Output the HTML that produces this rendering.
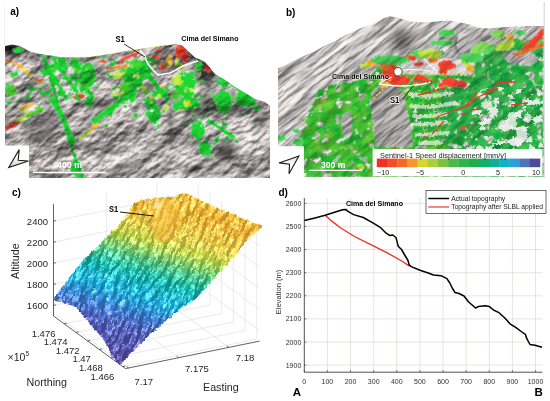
<!DOCTYPE html><html><head><meta charset="utf-8"><style>html,body{margin:0;padding:0;background:#fff;overflow:hidden}svg{display:block;font-family:"Liberation Sans",sans-serif}</style></head><body>
<svg width="550" height="401" viewBox="0 0 550 401" font-family="Liberation Sans, sans-serif">
<defs>
<clipPath id="ca"><polygon points="5,46 12,44.5 20,46 30,51.5 40,54 50,55.5 60,57 75,57.5 90,57 100,55.5 110,54 125,51 140,49 150,47.5 160,46 170,45 176,43.5 182,45.5 188,51 195,57.5 200,59.5 205,62 210,68 215,74 225,80 235,87 245,93 255,99 265,102 270,106 270,178 5,178"/></clipPath>
<clipPath id="cb"><polygon points="278,68.6 290,62.8 300,57.7 305,55.5 315,51.2 325,45.4 335,41 345,35.2 352,32.3 360,28.5 370,25 377,21.5 383,18.5 390,16.3 398,17.7 405,20 410,21.4 420,22.3 430,22.3 440,21 450,20.5 460,22.5 470,24.5 478,27.5 488,28.5 500,27.5 514,26.5 528,26 543.8,26 543.8,177 278,177"/></clipPath>
<clipPath id="cc"><polygon points="52.8,299.6 58,292 65.6,282.6 74,271 82.7,261 95.5,248 108.4,235.5 121,222.7 129.7,210 133,205 138.3,201 145,199.5 151,199 158,198 163.6,197 168,197.5 172.7,197 178,194.5 182,193.5 187,193.5 195,197.5 202,201 212,205.5 224,210.5 235,215 245,219 252,222.5 258,224 262,225 261.4,226.5 256.8,232 247.7,239 241,248 234,257 227,266 218,273 208,286.3 195,299.4 182,307.6 165.5,322 152.5,332 142.7,342 132,352 125,360 119.8,364.8 113,358 105.6,343 98,333 90.5,325 83,315 75.4,307 65,303 56,301"/></clipPath>
<filter id="ta" x="0" y="0" width="100%" height="100%" color-interpolation-filters="sRGB">
<feTurbulence type="fractalNoise" baseFrequency="0.06 0.2" numOctaves="4" seed="4" result="n"/>
<feColorMatrix in="n" type="matrix" values="1.5 0 0 0 -0.13  1.5 0 0 0 -0.13  1.5 0 0 0 -0.13  0 0 0 0 1"/>
</filter>
<filter id="tb" x="0" y="0" width="100%" height="100%" color-interpolation-filters="sRGB">
<feTurbulence type="fractalNoise" baseFrequency="0.05 0.22" numOctaves="4" seed="11" result="n"/>
<feColorMatrix in="n" type="matrix" values="1.4 0 0 0 0.02  1.4 0 0 0 0.02  1.4 0 0 0 0.02  0 0 0 0 1"/>
</filter>
<filter id="cl" filterUnits="userSpaceOnUse" x="-60" y="100" width="420" height="360" color-interpolation-filters="sRGB">
<feTurbulence type="fractalNoise" baseFrequency="0.22 0.06" numOctaves="4" seed="3" result="n"/>
<feDiffuseLighting in="n" surfaceScale="6" diffuseConstant="1" lighting-color="#fff" result="d"><feDistantLight azimuth="180" elevation="45"/></feDiffuseLighting>
<feColorMatrix in="d" type="matrix" values="0.3 0 0 0 0.8  0.3 0 0 0 0.8  0.3 0 0 0 0.8  0 0 0 0 1" result="d2"/>
<feSpecularLighting in="n" surfaceScale="6" specularConstant="0.45" specularExponent="18" lighting-color="#fff" result="s"><feDistantLight azimuth="180" elevation="45"/></feSpecularLighting>
<feBlend in="SourceGraphic" in2="d2" mode="multiply" result="m"/>
<feComposite in="s" in2="m" operator="arithmetic" k2="1" k3="1" result="a"/>
<feComposite in="a" in2="SourceGraphic" operator="in"/>
</filter>
<filter id="sp" x="0" y="0" width="100%" height="100%" color-interpolation-filters="sRGB">
<feTurbulence type="fractalNoise" baseFrequency="0.35 0.12" numOctaves="3" seed="5" result="n"/>
<feColorMatrix in="n" type="matrix" values="0 0 0 0 1  0 0 0 0 1  0 0 0 0 1  4 0 0 0 -2.1"/>
</filter>
<filter id="sd" x="0" y="0" width="100%" height="100%" color-interpolation-filters="sRGB">
<feTurbulence type="fractalNoise" baseFrequency="0.3 0.1" numOctaves="3" seed="9" result="n"/>
<feColorMatrix in="n" type="matrix" values="0 0 0 0 0.1  0 0 0 0 0.1  0 0 0 0 0.2  3 0 0 0 -1.7"/>
</filter>
<linearGradient id="gc" gradientUnits="userSpaceOnUse" x1="100" y1="370" x2="160.5" y2="168.2">
<stop offset="0.045" stop-color="#5446a2"/><stop offset="0.227" stop-color="#4a58b4"/><stop offset="0.295" stop-color="#3a74cc"/>
<stop offset="0.386" stop-color="#16a6d8"/><stop offset="0.49" stop-color="#10b0a4"/><stop offset="0.555" stop-color="#40bc7c"/>
<stop offset="0.645" stop-color="#b4d046"/><stop offset="0.727" stop-color="#e6c640"/><stop offset="0.818" stop-color="#f0ae32"/>
<stop offset="0.91" stop-color="#f2b834"/><stop offset="0.977" stop-color="#f4d040"/></linearGradient>
<filter id="rag" x="-10%" y="-10%" width="120%" height="120%">
<feTurbulence type="fractalNoise" baseFrequency="0.45" numOctaves="2" seed="3" result="t"/>
<feDisplacementMap in="SourceGraphic" in2="t" scale="4" xChannelSelector="R" yChannelSelector="G"/>
</filter>
<filter id="ragh" x="-10%" y="-10%" width="120%" height="120%" color-interpolation-filters="sRGB">
<feTurbulence type="fractalNoise" baseFrequency="0.45" numOctaves="2" seed="3" result="t"/>
<feDisplacementMap in="SourceGraphic" in2="t" scale="4" xChannelSelector="R" yChannelSelector="G" result="d"/>
<feTurbulence type="fractalNoise" baseFrequency="0.14" numOctaves="3" seed="21" result="t2"/>
<feColorMatrix in="t2" type="matrix" values="0 0 0 0 0  0 0 0 0 0  0 0 0 0 0  0 0 0 -20 13.4" result="mask"/>
<feTurbulence type="fractalNoise" baseFrequency="0.09" numOctaves="3" seed="33" result="t3"/>
<feColorMatrix in="t3" type="matrix" values="0.65 0 0 0 -0.06  0.15 0 0 0 0.7  0.05 0 0 0 0.18  0 0 0 0 1" result="col"/>
<feComposite in="col" in2="d" operator="in" result="cd"/>
<feComposite in="cd" in2="mask" operator="in"/>
</filter>
<filter id="raghd" x="-10%" y="-10%" width="120%" height="120%" color-interpolation-filters="sRGB">
<feTurbulence type="fractalNoise" baseFrequency="0.45" numOctaves="2" seed="3" result="t"/>
<feDisplacementMap in="SourceGraphic" in2="t" scale="4" xChannelSelector="R" yChannelSelector="G" result="d"/>
<feTurbulence type="fractalNoise" baseFrequency="0.14" numOctaves="3" seed="21" result="t2"/>
<feColorMatrix in="t2" type="matrix" values="0 0 0 0 0  0 0 0 0 0  0 0 0 0 0  0 0 0 -20 13.4" result="mask"/>
<feTurbulence type="fractalNoise" baseFrequency="0.09" numOctaves="3" seed="34" result="t3"/>
<feColorMatrix in="t3" type="matrix" values="0.5 0 0 0 -0.08  0.2 0 0 0 0.62  0.15 0 0 0 0.22  0 0 0 0 1" result="col"/>
<feComposite in="col" in2="d" operator="in" result="cd"/>
<feComposite in="cd" in2="mask" operator="in"/>
</filter>
<filter id="frag" x="-10%" y="-10%" width="120%" height="120%" color-interpolation-filters="sRGB">
<feTurbulence type="fractalNoise" baseFrequency="0.5" numOctaves="2" seed="5" result="t"/>
<feDisplacementMap in="SourceGraphic" in2="t" scale="4.5" xChannelSelector="R" yChannelSelector="G" result="d"/>
<feTurbulence type="fractalNoise" baseFrequency="0.22" numOctaves="2" seed="27" result="t2"/>
<feColorMatrix in="t2" type="matrix" values="0 0 0 0 0  0 0 0 0 0  0 0 0 0 0  0 0 0 -22 16.6" result="mask"/>
<feComposite in="d" in2="mask" operator="in"/>
</filter>
<filter id="bl05" x="-50%" y="-50%" width="200%" height="200%"><feGaussianBlur stdDeviation="0.7"/></filter>
<filter id="bl1" x="-50%" y="-50%" width="200%" height="200%"><feGaussianBlur stdDeviation="1.5"/></filter>
<linearGradient id="slab" x1="0" y1="0" x2="0.3" y2="1"><stop offset="0" stop-color="#fce070"/><stop offset="0.45" stop-color="#f6c040"/><stop offset="1" stop-color="#f0a830"/></linearGradient>
<filter id="ragc" filterUnits="userSpaceOnUse" x="30" y="180" width="250" height="200">
<feTurbulence type="fractalNoise" baseFrequency="0.3" numOctaves="2" seed="12" result="t"/>
<feDisplacementMap in="SourceGraphic" in2="t" scale="3.5" xChannelSelector="R" yChannelSelector="G"/>
</filter>
<filter id="wnet" filterUnits="userSpaceOnUse" x="440" y="60" width="110" height="120" color-interpolation-filters="sRGB">
<feTurbulence type="fractalNoise" baseFrequency="0.09 0.13" numOctaves="3" seed="41" result="t"/>
<feColorMatrix in="t" type="matrix" values="0 0 0 0 0.95  0 0 0 0 0.94  0 0 0 0 0.94  0 0 0 16 -8.95" result="w"/>
<feTurbulence type="fractalNoise" baseFrequency="0.5" numOctaves="2" seed="5" result="t5"/>
<feDisplacementMap in="w" in2="t5" scale="3" xChannelSelector="R" yChannelSelector="G" result="wd"/>
<feComposite in="wd" in2="SourceGraphic" operator="in"/>
</filter>
<filter id="bl" x="-50%" y="-50%" width="200%" height="200%"><feGaussianBlur stdDeviation="4"/></filter>
<filter id="drA" filterUnits="userSpaceOnUse" x="-150" y="-150" width="600" height="500" color-interpolation-filters="sRGB"><feTurbulence type="fractalNoise" baseFrequency="0.018 0.03" numOctaves="7" seed="4" result="n"/><feDiffuseLighting in="n" surfaceScale="10" diffuseConstant="1" lighting-color="#fff" result="l"><feDistantLight azimuth="110" elevation="42"/></feDiffuseLighting><feColorMatrix in="l" type="matrix" values="0.8 0 0 0 0.27  0.8 0 0 0 0.27  0.8 0 0 0 0.27  0 0 0 0 1" result="hs"/><feTurbulence type="fractalNoise" baseFrequency="0.12 0.25" numOctaves="3" seed="8" result="n2"/><feDiffuseLighting in="n2" surfaceScale="3.5" diffuseConstant="1" lighting-color="#fff" result="l2"><feDistantLight azimuth="110" elevation="42"/></feDiffuseLighting><feColorMatrix in="l2" type="matrix" values="0.5 0 0 0 0.63  0.5 0 0 0 0.63  0.5 0 0 0 0.63  0 0 0 0 1" result="hs2"/><feBlend in="SourceGraphic" in2="hs2" mode="multiply" result="sf"/><feBlend in="sf" in2="hs" mode="multiply" result="m"/></filter>
<filter id="drAw" filterUnits="userSpaceOnUse" x="-150" y="-150" width="600" height="500" color-interpolation-filters="sRGB"><feTurbulence type="fractalNoise" baseFrequency="0.018 0.03" numOctaves="7" seed="4" result="n"/><feDiffuseLighting in="n" surfaceScale="11" diffuseConstant="1" lighting-color="#fff" result="l"><feDistantLight azimuth="110" elevation="42"/></feDiffuseLighting><feColorMatrix in="l" type="matrix" values="0.6 0 0 0 0.52  0.6 0 0 0 0.52  0.6 0 0 0 0.52  0 0 0 0 1" result="hs"/><feBlend in="SourceGraphic" in2="hs" mode="multiply" result="m"/><feComposite in="m" in2="SourceGraphic" operator="in"/></filter>
<filter id="drB" filterUnits="userSpaceOnUse" x="150" y="-200" width="560" height="560" color-interpolation-filters="sRGB"><feTurbulence type="fractalNoise" baseFrequency="0.008 0.04" numOctaves="7" seed="13" result="n"/><feDiffuseLighting in="n" surfaceScale="6" diffuseConstant="1" lighting-color="#fff" result="l"><feDistantLight azimuth="90" elevation="40"/></feDiffuseLighting><feColorMatrix in="l" type="matrix" values="0.6 0 0 0 0.5  0.6 0 0 0 0.5  0.6 0 0 0 0.5  0 0 0 0 1" result="hs"/><feTurbulence type="fractalNoise" baseFrequency="0.03 0.22" numOctaves="4" seed="8" result="n2"/><feDiffuseLighting in="n2" surfaceScale="4" diffuseConstant="1" lighting-color="#fff" result="l2"><feDistantLight azimuth="90" elevation="40"/></feDiffuseLighting><feColorMatrix in="l2" type="matrix" values="0.55 0 0 0 0.63  0.55 0 0 0 0.63  0.55 0 0 0 0.63  0 0 0 0 1" result="hs2"/><feBlend in="SourceGraphic" in2="hs2" mode="multiply" result="sf"/><feBlend in="sf" in2="hs" mode="multiply" result="m"/></filter>
<filter id="drBm" filterUnits="userSpaceOnUse" x="150" y="-200" width="560" height="560" color-interpolation-filters="sRGB"><feTurbulence type="fractalNoise" baseFrequency="0.008 0.04" numOctaves="7" seed="13" result="n"/><feDiffuseLighting in="n" surfaceScale="6" diffuseConstant="1" lighting-color="#fff" result="l"><feDistantLight azimuth="90" elevation="40"/></feDiffuseLighting><feColorMatrix in="l" type="matrix" values="0.6 0 0 0 0.5  0.6 0 0 0 0.5  0.6 0 0 0 0.5  0 0 0 0 1" result="hs"/><feTurbulence type="fractalNoise" baseFrequency="0.03 0.22" numOctaves="4" seed="8" result="n2"/><feDiffuseLighting in="n2" surfaceScale="4" diffuseConstant="1" lighting-color="#fff" result="l2"><feDistantLight azimuth="90" elevation="40"/></feDiffuseLighting><feColorMatrix in="l2" type="matrix" values="0.55 0 0 0 0.63  0.55 0 0 0 0.63  0.55 0 0 0 0.63  0 0 0 0 1" result="hs2"/><feBlend in="SourceGraphic" in2="hs2" mode="multiply" result="sf"/><feBlend in="sf" in2="hs" mode="multiply" result="m"/><feComposite in="m" in2="SourceGraphic" operator="in"/></filter>
<filter id="drBw" filterUnits="userSpaceOnUse" x="150" y="-200" width="560" height="560" color-interpolation-filters="sRGB"><feTurbulence type="fractalNoise" baseFrequency="0.02 0.05" numOctaves="7" seed="13" result="n"/><feDiffuseLighting in="n" surfaceScale="7" diffuseConstant="1" lighting-color="#fff" result="l"><feDistantLight azimuth="90" elevation="35"/></feDiffuseLighting><feColorMatrix in="l" type="matrix" values="0.35 0 0 0 0.72  0.35 0 0 0 0.72  0.35 0 0 0 0.72  0 0 0 0 1" result="hs"/><feBlend in="SourceGraphic" in2="hs" mode="multiply" result="m"/><feComposite in="m" in2="SourceGraphic" operator="in"/></filter>
</defs>
<g clip-path="url(#ca)">
<g transform="rotate(-35 137 110)" filter="url(#drA)"><g transform="rotate(35 137 110)">
<rect x="0" y="30" width="275" height="160" fill="#f8efee"/>
<g filter="url(#bl)">
<ellipse cx="14" cy="49" rx="11" ry="4" fill="#000" opacity="0.75" transform="rotate(-5 14 49)"/>
<ellipse cx="60" cy="57" rx="30" ry="3" fill="#000" opacity="0.35" transform="rotate(4 60 57)"/>
<ellipse cx="40" cy="130" rx="18" ry="16" fill="#000" opacity="0.35" transform="rotate(-35 40 130)"/>
<ellipse cx="103" cy="113" rx="18" ry="5" fill="#000" opacity="0.5" transform="rotate(-42 103 113)"/>
<ellipse cx="205" cy="72" rx="12" ry="14" fill="#000" opacity="0.6" transform="rotate(20 205 72)"/>
<ellipse cx="165" cy="60" rx="17" ry="8" fill="#000" opacity="0.55" transform="rotate(-10 165 60)"/>
<ellipse cx="226" cy="152" rx="14" ry="10" fill="#000" opacity="0.6" transform="rotate(-20 226 152)"/>
<ellipse cx="212" cy="103" rx="13" ry="10" fill="#000" opacity="0.55"/>
<ellipse cx="214" cy="76" rx="6" ry="10" fill="#000" opacity="0.5"/>
<ellipse cx="260" cy="122" rx="8" ry="12" fill="#000" opacity="0.4"/>
<ellipse cx="170" cy="122" rx="3" ry="32" fill="#000" opacity="0.4" transform="rotate(3 170 122)"/>
<ellipse cx="50" cy="100" rx="6" ry="28" fill="#000" opacity="0.3" transform="rotate(-28 50 100)"/>
<ellipse cx="88" cy="62" rx="14" ry="4" fill="#000" opacity="0.3" transform="rotate(-10 88 62)"/>
<ellipse cx="195" cy="140" rx="9" ry="12" fill="#000" opacity="0.25"/>
<ellipse cx="128" cy="55" rx="12" ry="3" fill="#000" opacity="0.35" transform="rotate(-12 128 55)"/>
<ellipse cx="232" cy="95" rx="8" ry="6" fill="#000" opacity="0.3"/>
<ellipse cx="120" cy="75" rx="8" ry="5" fill="#000" opacity="0.25"/>
<ellipse cx="135" cy="155" rx="32" ry="14" fill="#fff" opacity="0.45" transform="rotate(-10 135 155)"/>
<ellipse cx="255" cy="150" rx="14" ry="25" fill="#fff" opacity="0.4"/>
<ellipse cx="90" cy="150" rx="15" ry="12" fill="#fff" opacity="0.3"/>
<ellipse cx="200" cy="168" rx="25" ry="8" fill="#fff" opacity="0.3"/>
<ellipse cx="20" cy="90" rx="14" ry="14" fill="#fff" opacity="0.3" transform="rotate(-20 20 90)"/>
<ellipse cx="140" cy="100" rx="12" ry="8" fill="#fff" opacity="0.2" transform="rotate(-30 140 100)"/>
</g>
<g filter="url(#bl1)">
<polyline points="4,48 9,48 14,49" fill="none" stroke="#000" stroke-width="7" opacity="0.8" stroke-linecap="round"/>
<polyline points="14,49 22,50 28,52.5" fill="none" stroke="#000" stroke-width="3" opacity="0.6" stroke-linecap="round"/>
<polyline points="6,53 12,54" fill="none" stroke="#000" stroke-width="4" opacity="0.5" stroke-linecap="round"/>
<polyline points="30,53 50,56.5 75,58.5 100,56.5 125,52" fill="none" stroke="#000" stroke-width="2.5" opacity="0.35" stroke-linecap="round"/>
<polyline points="182,47 190,53 198,60 206,66" fill="none" stroke="#000" stroke-width="4" opacity="0.5" stroke-linecap="round"/>
<polyline points="200,70 204,80 210,88" fill="none" stroke="#000" stroke-width="3" opacity="0.45" stroke-linecap="round"/>
<polyline points="168,92 170,110 171,130 172,150" fill="none" stroke="#000" stroke-width="1.5" opacity="0.45" stroke-linecap="round"/>
<polyline points="88,130 100,120 112,108 120,99" fill="none" stroke="#000" stroke-width="2" opacity="0.4" stroke-linecap="round"/>
</g>
</g></g>
<g transform="rotate(-35 137 110)" filter="url(#drAw)"><g transform="rotate(35 137 110)">
<g filter="url(#frag)">
<ellipse cx="18" cy="50" rx="6" ry="3" fill="#1cd834"/>
<ellipse cx="45" cy="72" rx="5" ry="4" fill="#1cd834"/>
<ellipse cx="54" cy="80" rx="5" ry="4" fill="#1cd834"/>
<ellipse cx="76" cy="63" rx="6" ry="5" fill="#1cd834"/>
<ellipse cx="82" cy="80" rx="8" ry="5" fill="#1cd834" transform="rotate(-20 82 80)"/>
<ellipse cx="62" cy="62" rx="4" ry="6" fill="#14c02c"/>
<ellipse cx="11" cy="91" rx="6" ry="6" fill="#4cd634"/>
<ellipse cx="31" cy="89" rx="4" ry="3" fill="#1cd834"/>
<ellipse cx="79" cy="97" rx="6" ry="3" fill="#ff402e" transform="rotate(-10 79 97)"/>
<ellipse cx="8" cy="102" rx="3" ry="2" fill="#1cd834"/>
<ellipse cx="71" cy="140" rx="5" ry="4" fill="#1cd834"/>
<ellipse cx="76" cy="168" rx="6" ry="8" fill="#1cd834"/>
<ellipse cx="80" cy="176" rx="5" ry="3" fill="#1cd834"/>
<ellipse cx="89" cy="103" rx="5" ry="4" fill="#1cd834"/>
<ellipse cx="110" cy="110" rx="6" ry="4" fill="#4cd634" transform="rotate(-35 110 110)"/>
<ellipse cx="125" cy="97" rx="6" ry="4" fill="#1cd834" transform="rotate(-35 125 97)"/>
<ellipse cx="154" cy="113" rx="7" ry="10" fill="#1cd834"/>
<ellipse cx="150" cy="108" rx="4" ry="4" fill="#14c02c"/>
<ellipse cx="160" cy="94" rx="8" ry="4" fill="#1cd834"/>
<ellipse cx="178" cy="106" rx="6" ry="5" fill="#1cd834"/>
<ellipse cx="176" cy="92" rx="1.8" ry="1.8" fill="#ffbe34"/>
<ellipse cx="103" cy="61" rx="3" ry="1.8" fill="#ff402e"/>
<ellipse cx="120" cy="74" rx="8" ry="5" fill="#c2f046" transform="rotate(-20 120 74)"/>
<ellipse cx="133" cy="80" rx="10" ry="14" fill="#1cd834"/>
<ellipse cx="125" cy="88" rx="6" ry="6" fill="#4cd634"/>
<ellipse cx="88" cy="75" rx="8" ry="13" fill="#1cd834"/>
<ellipse cx="84" cy="88" rx="5" ry="5" fill="#4cd634"/>
<ellipse cx="154" cy="58" rx="3.5" ry="2" fill="#ff402e"/>
<ellipse cx="163" cy="66" rx="3" ry="4" fill="#ff402e"/>
<ellipse cx="158" cy="52" rx="2.5" ry="1.5" fill="#ff402e"/>
<ellipse cx="170" cy="61" rx="3" ry="7" fill="#ffbe34"/>
<ellipse cx="178" cy="63" rx="3" ry="7" fill="#c2f046"/>
<ellipse cx="181" cy="51" rx="6" ry="8" fill="#ff402e"/>
<ellipse cx="186" cy="57" rx="3.5" ry="6" fill="#ff402e"/>
<ellipse cx="155" cy="58" rx="5" ry="2.5" fill="#ff402e"/>
<ellipse cx="159" cy="51" rx="3" ry="1.8" fill="#ff402e"/>
<ellipse cx="164" cy="65" rx="3.5" ry="5" fill="#ff402e"/>
<ellipse cx="208" cy="68" rx="4" ry="4" fill="#ff402e"/>
<ellipse cx="199" cy="66" rx="4" ry="5" fill="#1cd834"/>
<ellipse cx="224" cy="81" rx="6" ry="7" fill="#1cd834"/>
<ellipse cx="184" cy="84" rx="12" ry="12" fill="#1cd834"/>
<ellipse cx="178" cy="80" rx="6" ry="6" fill="#c2f046"/>
<ellipse cx="190" cy="92" rx="6" ry="4" fill="#f6f040"/>
<ellipse cx="176" cy="95" rx="5" ry="5" fill="#4cd634"/>
<ellipse cx="140" cy="70" rx="12" ry="10" fill="#1cd834"/>
<ellipse cx="136" cy="63" rx="6" ry="4" fill="#4cd634"/>
<ellipse cx="189" cy="101" rx="9" ry="10" fill="#1cd834"/>
<ellipse cx="224" cy="102" rx="8" ry="12" fill="#1cd834"/>
<ellipse cx="242" cy="99" rx="7" ry="8" fill="#1cd834"/>
<ellipse cx="226" cy="80" rx="5" ry="5" fill="#1cd834"/>
<ellipse cx="198" cy="130" rx="7" ry="10" fill="#1cd834"/>
<ellipse cx="205" cy="148" rx="7" ry="8" fill="#1cd834"/>
<ellipse cx="249" cy="102" rx="6" ry="6" fill="#1cd834"/>
<ellipse cx="132" cy="95" rx="4" ry="8" fill="#1cd834"/>
<ellipse cx="148" cy="103" rx="3" ry="6" fill="#1cd834"/>
<ellipse cx="47.4" cy="93.1" rx="3.0" ry="2.3" fill="#1cd834"/>
<ellipse cx="81.9" cy="76.3" rx="2.3" ry="1.6" fill="#1cd834"/>
<ellipse cx="41.6" cy="92.6" rx="2.4" ry="2.5" fill="#1cd834"/>
<ellipse cx="78.3" cy="67.0" rx="3.1" ry="3.0" fill="#1cd834"/>
<ellipse cx="89.6" cy="56.4" rx="1.6" ry="1.4" fill="#1cd834"/>
<ellipse cx="77.8" cy="98.6" rx="3.0" ry="2.7" fill="#1cd834"/>
<ellipse cx="91.7" cy="79.9" rx="2.2" ry="2.2" fill="#1cd834"/>
<ellipse cx="92.4" cy="96.7" rx="2.3" ry="2.7" fill="#1cd834"/>
<ellipse cx="50.2" cy="99.7" rx="3.2" ry="2.2" fill="#4cd634"/>
<ellipse cx="89.3" cy="98.8" rx="2.5" ry="3.0" fill="#14c02c"/>
<ellipse cx="56.7" cy="81.4" rx="3.3" ry="3.6" fill="#1cd834"/>
<ellipse cx="72.4" cy="56.6" rx="2.0" ry="2.1" fill="#1cd834"/>
<ellipse cx="76.6" cy="71.5" rx="3.3" ry="3.5" fill="#4cd634"/>
<ellipse cx="44.8" cy="84.9" rx="1.7" ry="1.2" fill="#1cd834"/>
<ellipse cx="60.4" cy="88.0" rx="2.4" ry="1.9" fill="#1cd834"/>
<ellipse cx="75.6" cy="62.6" rx="2.0" ry="1.2" fill="#14c02c"/>
<ellipse cx="69.7" cy="93.7" rx="2.0" ry="1.8" fill="#4cd634"/>
<ellipse cx="65.3" cy="67.1" rx="2.6" ry="3.0" fill="#1cd834"/>
<ellipse cx="61.1" cy="93.6" rx="3.4" ry="4.0" fill="#14c02c"/>
<ellipse cx="68.5" cy="80.3" rx="2.4" ry="1.5" fill="#4cd634"/>
<ellipse cx="71.3" cy="64.0" rx="2.5" ry="2.2" fill="#4cd634"/>
<ellipse cx="62.8" cy="55.1" rx="2.6" ry="2.8" fill="#4cd634"/>
<ellipse cx="65.2" cy="56.3" rx="2.0" ry="1.4" fill="#14c02c"/>
<ellipse cx="87.4" cy="90.9" rx="3.1" ry="3.4" fill="#4cd634"/>
<ellipse cx="41.8" cy="97.5" rx="1.6" ry="1.8" fill="#1cd834"/>
<ellipse cx="40.8" cy="89.0" rx="2.0" ry="1.3" fill="#14c02c"/>
<ellipse cx="58.9" cy="58.1" rx="1.8" ry="1.7" fill="#14c02c"/>
<ellipse cx="76.1" cy="84.2" rx="2.1" ry="2.1" fill="#1cd834"/>
<ellipse cx="66.1" cy="56.1" rx="2.3" ry="1.9" fill="#14c02c"/>
<ellipse cx="54.2" cy="66.4" rx="3.0" ry="3.5" fill="#1cd834"/>
<ellipse cx="84.9" cy="55.9" rx="1.5" ry="1.1" fill="#14c02c"/>
<ellipse cx="64.5" cy="77.8" rx="2.4" ry="2.6" fill="#1cd834"/>
<ellipse cx="52.3" cy="84.2" rx="2.3" ry="2.2" fill="#4cd634"/>
<ellipse cx="76.3" cy="74.2" rx="3.0" ry="2.0" fill="#14c02c"/>
<ellipse cx="88.2" cy="68.8" rx="3.2" ry="2.5" fill="#4cd634"/>
<ellipse cx="80.9" cy="73.7" rx="2.0" ry="1.2" fill="#1cd834"/>
<ellipse cx="72.5" cy="64.8" rx="3.3" ry="2.9" fill="#1cd834"/>
<ellipse cx="60.8" cy="70.6" rx="1.9" ry="1.9" fill="#1cd834"/>
<ellipse cx="72.5" cy="77.2" rx="3.4" ry="2.8" fill="#1cd834"/>
<ellipse cx="40.9" cy="82.5" rx="2.3" ry="1.8" fill="#14c02c"/>
<ellipse cx="51.0" cy="69.7" rx="3.5" ry="3.7" fill="#4cd634"/>
<ellipse cx="63.6" cy="67.0" rx="1.7" ry="1.4" fill="#4cd634"/>
<ellipse cx="90.3" cy="92.7" rx="2.6" ry="2.7" fill="#14c02c"/>
<ellipse cx="43.6" cy="56.8" rx="1.8" ry="1.2" fill="#14c02c"/>
<ellipse cx="54.7" cy="70.0" rx="2.5" ry="1.9" fill="#4cd634"/>
<ellipse cx="58.7" cy="68.1" rx="3.2" ry="3.1" fill="#1cd834"/>
<ellipse cx="47.4" cy="79.8" rx="1.7" ry="1.1" fill="#1cd834"/>
<ellipse cx="60.9" cy="99.6" rx="1.8" ry="1.2" fill="#1cd834"/>
<ellipse cx="73.8" cy="90.2" rx="2.3" ry="2.1" fill="#14c02c"/>
<ellipse cx="71.1" cy="97.9" rx="2.2" ry="1.7" fill="#1cd834"/>
<ellipse cx="65.2" cy="67.5" rx="3.1" ry="3.4" fill="#1cd834"/>
<ellipse cx="73.8" cy="55.7" rx="2.3" ry="2.5" fill="#1cd834"/>
<ellipse cx="50.3" cy="90.3" rx="2.7" ry="1.9" fill="#1cd834"/>
<ellipse cx="49.2" cy="65.9" rx="3.0" ry="2.0" fill="#1cd834"/>
<ellipse cx="84.4" cy="79.4" rx="3.1" ry="2.9" fill="#1cd834"/>
<ellipse cx="57.3" cy="64.3" rx="2.1" ry="1.3" fill="#4cd634"/>
<ellipse cx="80.0" cy="69.4" rx="2.3" ry="1.9" fill="#1cd834"/>
<ellipse cx="90.2" cy="98.6" rx="3.4" ry="2.3" fill="#14c02c"/>
<ellipse cx="83.2" cy="90.0" rx="3.3" ry="3.7" fill="#1cd834"/>
<ellipse cx="76.4" cy="66.7" rx="2.6" ry="2.0" fill="#14c02c"/>
<ellipse cx="147.6" cy="97.7" rx="1.6" ry="1.1" fill="#14c02c"/>
<ellipse cx="135.5" cy="85.1" rx="2.1" ry="2.0" fill="#1cd834"/>
<ellipse cx="127.0" cy="62.1" rx="2.4" ry="2.0" fill="#4cd634"/>
<ellipse cx="124.9" cy="75.0" rx="2.0" ry="1.3" fill="#1cd834"/>
<ellipse cx="115.0" cy="96.9" rx="3.3" ry="2.8" fill="#14c02c"/>
<ellipse cx="125.8" cy="65.6" rx="1.5" ry="1.2" fill="#14c02c"/>
<ellipse cx="123.1" cy="71.2" rx="2.5" ry="2.4" fill="#c2f046"/>
<ellipse cx="138.8" cy="88.0" rx="3.3" ry="3.5" fill="#4cd634"/>
<ellipse cx="114.9" cy="93.7" rx="2.4" ry="2.8" fill="#c2f046"/>
<ellipse cx="134.3" cy="75.8" rx="2.6" ry="2.3" fill="#c2f046"/>
<ellipse cx="122.5" cy="92.4" rx="2.2" ry="2.5" fill="#c2f046"/>
<ellipse cx="114.3" cy="87.7" rx="2.6" ry="2.3" fill="#14c02c"/>
<ellipse cx="146.7" cy="91.7" rx="3.2" ry="3.6" fill="#4cd634"/>
<ellipse cx="137.5" cy="76.6" rx="2.1" ry="2.3" fill="#c2f046"/>
<ellipse cx="112.2" cy="64.4" rx="2.5" ry="2.9" fill="#1cd834"/>
<ellipse cx="138.1" cy="70.4" rx="1.5" ry="1.7" fill="#1cd834"/>
<ellipse cx="98.2" cy="84.4" rx="2.0" ry="1.5" fill="#1cd834"/>
<ellipse cx="136.5" cy="61.1" rx="2.0" ry="2.2" fill="#1cd834"/>
<ellipse cx="118.3" cy="87.3" rx="1.6" ry="1.3" fill="#14c02c"/>
<ellipse cx="108.7" cy="56.1" rx="1.7" ry="1.1" fill="#1cd834"/>
<ellipse cx="135.1" cy="56.0" rx="2.0" ry="2.2" fill="#14c02c"/>
<ellipse cx="135.4" cy="78.5" rx="1.5" ry="1.4" fill="#14c02c"/>
<ellipse cx="103.3" cy="56.6" rx="2.2" ry="2.1" fill="#1cd834"/>
<ellipse cx="110.7" cy="77.0" rx="2.1" ry="2.0" fill="#1cd834"/>
<ellipse cx="144.6" cy="89.0" rx="3.2" ry="3.3" fill="#c2f046"/>
<ellipse cx="147.7" cy="59.2" rx="2.9" ry="3.2" fill="#1cd834"/>
<ellipse cx="119.6" cy="94.4" rx="1.8" ry="1.7" fill="#c2f046"/>
<ellipse cx="121.8" cy="69.8" rx="3.2" ry="2.6" fill="#4cd634"/>
<ellipse cx="128.3" cy="73.9" rx="1.5" ry="1.4" fill="#14c02c"/>
<ellipse cx="131.9" cy="66.4" rx="1.8" ry="1.2" fill="#c2f046"/>
<ellipse cx="129.9" cy="77.9" rx="3.5" ry="4.0" fill="#14c02c"/>
<ellipse cx="107.8" cy="75.0" rx="2.0" ry="1.9" fill="#4cd634"/>
<ellipse cx="109.1" cy="74.0" rx="2.6" ry="1.5" fill="#1cd834"/>
<ellipse cx="116.2" cy="62.2" rx="2.5" ry="1.6" fill="#1cd834"/>
<ellipse cx="100.5" cy="63.2" rx="2.0" ry="1.4" fill="#c2f046"/>
<ellipse cx="161.9" cy="87.2" rx="2.2" ry="2.2" fill="#ffbe34"/>
<ellipse cx="153.3" cy="60.7" rx="3.2" ry="2.4" fill="#14c02c"/>
<ellipse cx="159.6" cy="95.9" rx="2.6" ry="2.4" fill="#c2f046"/>
<ellipse cx="182.0" cy="67.5" rx="2.8" ry="3.1" fill="#ffbe34"/>
<ellipse cx="169.5" cy="60.8" rx="3.1" ry="2.1" fill="#ffbe34"/>
<ellipse cx="152.1" cy="99.0" rx="3.1" ry="2.4" fill="#ffbe34"/>
<ellipse cx="185.9" cy="103.9" rx="2.9" ry="3.4" fill="#c2f046"/>
<ellipse cx="186.4" cy="88.8" rx="3.4" ry="2.3" fill="#4cd634"/>
<ellipse cx="154.9" cy="66.8" rx="1.9" ry="2.3" fill="#c2f046"/>
<ellipse cx="188.9" cy="102.8" rx="2.3" ry="2.6" fill="#ffbe34"/>
<ellipse cx="167.5" cy="89.3" rx="2.7" ry="3.0" fill="#1cd834"/>
<ellipse cx="192.8" cy="109.5" rx="2.8" ry="2.0" fill="#4cd634"/>
<ellipse cx="198.2" cy="105.2" rx="2.6" ry="2.7" fill="#14c02c"/>
<ellipse cx="181.6" cy="109.4" rx="2.0" ry="1.4" fill="#c2f046"/>
<ellipse cx="192.7" cy="109.5" rx="1.7" ry="1.8" fill="#c2f046"/>
<ellipse cx="194.9" cy="61.0" rx="2.4" ry="2.0" fill="#1cd834"/>
<ellipse cx="152.2" cy="90.7" rx="1.6" ry="1.6" fill="#4cd634"/>
<ellipse cx="177.5" cy="106.1" rx="2.1" ry="1.5" fill="#1cd834"/>
<ellipse cx="165.5" cy="63.8" rx="2.7" ry="1.7" fill="#14c02c"/>
<ellipse cx="198.6" cy="74.6" rx="2.0" ry="2.1" fill="#4cd634"/>
<ellipse cx="165.7" cy="107.9" rx="3.3" ry="2.7" fill="#c2f046"/>
<ellipse cx="193.5" cy="79.3" rx="3.2" ry="3.3" fill="#1cd834"/>
<ellipse cx="181.0" cy="107.0" rx="2.5" ry="2.2" fill="#14c02c"/>
<ellipse cx="196.8" cy="81.9" rx="2.0" ry="1.6" fill="#4cd634"/>
<ellipse cx="150.6" cy="80.8" rx="2.7" ry="1.6" fill="#ffbe34"/>
<ellipse cx="179.5" cy="66.7" rx="2.8" ry="2.2" fill="#4cd634"/>
<ellipse cx="184.0" cy="77.6" rx="2.9" ry="3.0" fill="#1cd834"/>
<ellipse cx="179.5" cy="107.7" rx="1.5" ry="1.3" fill="#c2f046"/>
<ellipse cx="164.9" cy="90.1" rx="1.9" ry="1.3" fill="#4cd634"/>
<ellipse cx="192.2" cy="73.2" rx="3.1" ry="2.0" fill="#1cd834"/>
<ellipse cx="214.2" cy="79.1" rx="2.2" ry="1.5" fill="#1cd834"/>
<ellipse cx="201.2" cy="97.0" rx="2.0" ry="2.4" fill="#1cd834"/>
<ellipse cx="213.3" cy="96.5" rx="2.0" ry="1.4" fill="#1cd834"/>
<ellipse cx="215.7" cy="112.7" rx="1.5" ry="1.5" fill="#14c02c"/>
<ellipse cx="248.0" cy="82.7" rx="2.0" ry="2.0" fill="#4cd634"/>
<ellipse cx="257.7" cy="108.9" rx="2.1" ry="2.4" fill="#14c02c"/>
<ellipse cx="240.3" cy="95.2" rx="1.8" ry="1.6" fill="#1cd834"/>
<ellipse cx="256.7" cy="107.7" rx="3.1" ry="3.4" fill="#1cd834"/>
<ellipse cx="254.5" cy="97.9" rx="3.0" ry="3.3" fill="#4cd634"/>
<ellipse cx="211.7" cy="91.9" rx="2.0" ry="1.7" fill="#1cd834"/>
<ellipse cx="218.3" cy="107.5" rx="1.6" ry="1.0" fill="#4cd634"/>
<ellipse cx="259.8" cy="95.8" rx="2.6" ry="2.7" fill="#1cd834"/>
<ellipse cx="259.8" cy="82.8" rx="2.2" ry="1.6" fill="#4cd634"/>
<ellipse cx="226.5" cy="82.3" rx="2.2" ry="2.1" fill="#4cd634"/>
<ellipse cx="233.5" cy="111.2" rx="1.7" ry="1.1" fill="#1cd834"/>
<ellipse cx="216.6" cy="98.3" rx="3.0" ry="2.0" fill="#1cd834"/>
<ellipse cx="217.5" cy="76.0" rx="2.1" ry="1.4" fill="#14c02c"/>
<ellipse cx="244.1" cy="113.4" rx="1.5" ry="1.2" fill="#1cd834"/>
<ellipse cx="246.5" cy="91.4" rx="3.1" ry="3.0" fill="#1cd834"/>
<ellipse cx="217.6" cy="82.7" rx="2.3" ry="1.5" fill="#14c02c"/>
<ellipse cx="235.9" cy="81.4" rx="2.5" ry="2.0" fill="#14c02c"/>
<ellipse cx="210.2" cy="106.3" rx="2.1" ry="1.6" fill="#1cd834"/>
<ellipse cx="226.4" cy="83.3" rx="3.1" ry="2.0" fill="#1cd834"/>
<ellipse cx="203.3" cy="81.7" rx="2.7" ry="1.8" fill="#1cd834"/>
<ellipse cx="232.8" cy="98.3" rx="2.0" ry="1.3" fill="#4cd634"/>
<ellipse cx="26.8" cy="111.9" rx="2.7" ry="3.1" fill="#c2f046"/>
<ellipse cx="27.8" cy="97.1" rx="2.8" ry="2.9" fill="#1cd834"/>
<ellipse cx="27.7" cy="123.1" rx="1.7" ry="1.5" fill="#1cd834"/>
<ellipse cx="18.3" cy="67.1" rx="1.9" ry="1.9" fill="#4cd634"/>
<ellipse cx="14.8" cy="124.1" rx="2.6" ry="1.8" fill="#1cd834"/>
<ellipse cx="9.9" cy="103.2" rx="1.7" ry="1.0" fill="#1cd834"/>
<ellipse cx="12.3" cy="75.1" rx="3.0" ry="3.3" fill="#4cd634"/>
<ellipse cx="16.0" cy="73.9" rx="2.8" ry="2.7" fill="#1cd834"/>
<ellipse cx="37.9" cy="108.3" rx="2.9" ry="3.4" fill="#4cd634"/>
<ellipse cx="5.8" cy="89.0" rx="2.9" ry="2.2" fill="#4cd634"/>
<ellipse cx="15.5" cy="102.2" rx="1.5" ry="1.5" fill="#4cd634"/>
<ellipse cx="7.3" cy="84.9" rx="2.0" ry="2.0" fill="#1cd834"/>
<ellipse cx="21.8" cy="109.3" rx="1.6" ry="1.9" fill="#1cd834"/>
<ellipse cx="38.2" cy="85.0" rx="2.1" ry="2.0" fill="#4cd634"/>
<ellipse cx="17.8" cy="100.5" rx="1.5" ry="1.0" fill="#1cd834"/>
<ellipse cx="155.5" cy="122.9" rx="2.2" ry="1.7" fill="#1cd834"/>
<ellipse cx="110.2" cy="113.5" rx="2.9" ry="3.1" fill="#14c02c"/>
<ellipse cx="153.9" cy="100.9" rx="2.7" ry="2.8" fill="#14c02c"/>
<ellipse cx="163.7" cy="111.6" rx="1.6" ry="1.5" fill="#14c02c"/>
<ellipse cx="146.4" cy="114.4" rx="1.6" ry="1.4" fill="#1cd834"/>
<ellipse cx="125.3" cy="106.4" rx="1.9" ry="1.9" fill="#1cd834"/>
<ellipse cx="149.1" cy="121.9" rx="1.6" ry="1.0" fill="#1cd834"/>
<ellipse cx="158.0" cy="126.5" rx="2.2" ry="2.5" fill="#1cd834"/>
<ellipse cx="136.0" cy="115.8" rx="2.5" ry="2.8" fill="#1cd834"/>
<ellipse cx="144.3" cy="99.8" rx="2.1" ry="1.7" fill="#1cd834"/>
<ellipse cx="106.3" cy="125.2" rx="2.3" ry="1.5" fill="#14c02c"/>
<ellipse cx="121.9" cy="97.8" rx="2.2" ry="1.5" fill="#1cd834"/>
<ellipse cx="202.8" cy="117.5" rx="2.5" ry="1.6" fill="#1cd834"/>
<ellipse cx="205.1" cy="112.9" rx="2.3" ry="1.4" fill="#14c02c"/>
<ellipse cx="208.0" cy="122.0" rx="2.3" ry="1.5" fill="#1cd834"/>
<ellipse cx="237.1" cy="141.5" rx="2.4" ry="1.5" fill="#14c02c"/>
<ellipse cx="187.7" cy="121.1" rx="2.3" ry="1.6" fill="#14c02c"/>
<ellipse cx="192.9" cy="115.9" rx="2.0" ry="2.1" fill="#1cd834"/>
<ellipse cx="190.7" cy="138.6" rx="1.8" ry="1.2" fill="#1cd834"/>
<ellipse cx="216.0" cy="141.0" rx="2.2" ry="2.1" fill="#14c02c"/>
<ellipse cx="210.6" cy="156.2" rx="2.0" ry="1.5" fill="#1cd834"/>
<ellipse cx="223.4" cy="122.2" rx="2.4" ry="2.2" fill="#14c02c"/>
<ellipse cx="225.1" cy="124.4" rx="3.0" ry="2.0" fill="#14c02c"/>
<ellipse cx="194.1" cy="127.1" rx="2.9" ry="2.5" fill="#1cd834"/>
<ellipse cx="227.1" cy="138.7" rx="2.8" ry="2.2" fill="#14c02c"/>
<ellipse cx="217.7" cy="139.0" rx="2.2" ry="2.4" fill="#14c02c"/>
</g>
<g filter="url(#rag)">
<polyline points="44,60 50,75 55,92 58,105 63,118 67,128 70,140 73,152 77,162 80,172 83,180" fill="none" stroke="#14c02c" stroke-width="3.5" stroke-linecap="round" stroke-linejoin="round"/>
<polyline points="53,100 60,112 66,125 70,138" fill="none" stroke="#1cd834" stroke-width="6" stroke-linecap="round" stroke-linejoin="round"/>
<polyline points="42,56 54,77 66,98" fill="none" stroke="#1cd834" stroke-width="4" stroke-linecap="round" stroke-linejoin="round"/>
<polyline points="52,56 64,74 77,92" fill="none" stroke="#1cd834" stroke-width="4" stroke-linecap="round" stroke-linejoin="round"/>
<polyline points="5,60 14,63 22,67 31,75" fill="none" stroke="#ff8032" stroke-width="3" stroke-linecap="round" stroke-linejoin="round"/>
<polyline points="14,63 22,67 31,75" fill="none" stroke="#ffbe34" stroke-width="3" stroke-linecap="round" stroke-linejoin="round"/>
<polyline points="24,69 31,75" fill="none" stroke="#f6f040" stroke-width="3" stroke-linecap="round" stroke-linejoin="round"/>
<polyline points="35,79 42,82" fill="none" stroke="#ff8032" stroke-width="3" stroke-linecap="round" stroke-linejoin="round"/>
<polyline points="20,109 33,104" fill="none" stroke="#ffbe34" stroke-width="3.6" stroke-linecap="round" stroke-linejoin="round"/>
<polyline points="17,121 30,115 42,109" fill="none" stroke="#c2f046" stroke-width="4" stroke-linecap="round" stroke-linejoin="round"/>
<polyline points="28,116 42,109" fill="none" stroke="#4cd634" stroke-width="4" stroke-linecap="round" stroke-linejoin="round"/>
<polyline points="6,128 17,123" fill="none" stroke="#ff402e" stroke-width="4" stroke-linecap="round" stroke-linejoin="round"/>
<polyline points="80,138 95,126" fill="none" stroke="#c2f046" stroke-width="3" stroke-linecap="round" stroke-linejoin="round"/>
<polyline points="94,121 105,113 118,103 134,90" fill="none" stroke="#1cd834" stroke-width="6" stroke-linecap="round" stroke-linejoin="round"/>
<polyline points="87,133 98,124" fill="none" stroke="#ffbe34" stroke-width="3" stroke-linecap="round" stroke-linejoin="round"/>
<polyline points="84,136 90,131" fill="none" stroke="#c2f046" stroke-width="3" stroke-linecap="round" stroke-linejoin="round"/>
<polyline points="118,63 128,57 138,53" fill="none" stroke="#ff402e" stroke-width="3" stroke-linecap="round" stroke-linejoin="round"/>
<polyline points="106,70 116,67 126,66" fill="none" stroke="#ff8032" stroke-width="2.5" stroke-linecap="round" stroke-linejoin="round"/>
<polyline points="144,70 156,85 168,100" fill="none" stroke="#1cd834" stroke-width="5" stroke-linecap="round" stroke-linejoin="round"/>
<polyline points="232,84 242,92 252,99" fill="none" stroke="#1cd834" stroke-width="4" stroke-linecap="round" stroke-linejoin="round"/>
<polyline points="209,121 220,128 234,137" fill="none" stroke="#1cd834" stroke-width="4" stroke-linecap="round" stroke-linejoin="round"/>
</g>
</g></g>
</g>
<polyline points="60,57.5 80,57.6 100,55.8 120,52.5 140,49.3 160,46.3 175,44.3" fill="none" stroke="#e8d040" stroke-width="1.1" stroke-dasharray="1.5 3" opacity="0.9"/>
<polyline points="140,50 144,55 148,64 153,70 158,75 164,74 170,73 176,70 181,67 188,64 194,62 198,61" fill="none" stroke="#fff" stroke-width="1.6" stroke-linejoin="round"/>
<path d="M124 44L145 57" stroke="#000" stroke-width="0.8"/>
<text x="115.5" y="42" font-size="8.9" font-weight="bold" textLength="9.4" lengthAdjust="spacingAndGlyphs">S1</text>
<text x="181.3" y="40.8" font-size="7.5" font-weight="bold" textLength="57.2" lengthAdjust="spacingAndGlyphs">Cima del Simano</text>
<rect x="4.3" y="145.5" width="24.7" height="33" fill="#fff"/>
<linearGradient id="ag" x1="0" y1="0" x2="0" y2="1"><stop offset="0.4" stop-color="#fff"/><stop offset="1" stop-color="#d8c6bc"/></linearGradient>
<polygon points="19.2,149.6 18.2,160.2 28.5,161 8.7,167.5" fill="url(#ag)" stroke="#1a1a1a" stroke-width="1.1" stroke-linejoin="miter"/>
<path d="M33 172.5H106" stroke="#fff" stroke-width="1.3"/>
<text x="57" y="168.4" font-size="8.6" font-weight="bold" fill="#fff" textLength="25.1" lengthAdjust="spacingAndGlyphs">400 m</text>
<g clip-path="url(#cb)">
<g transform="rotate(-38 410 100)" filter="url(#drB)"><g transform="rotate(38 410 100)">
<rect x="270" y="10" width="280" height="175" fill="#f2ecec"/>
<g filter="url(#bl)">
<ellipse cx="467" cy="43" rx="13" ry="12" fill="#000" opacity="0.7"/>
<ellipse cx="445" cy="38" rx="10" ry="5" fill="#000" opacity="0.4"/>
<ellipse cx="403" cy="40" rx="12" ry="13" fill="#000" opacity="0.45"/>
<ellipse cx="425" cy="45" rx="8" ry="6" fill="#000" opacity="0.3"/>
<ellipse cx="505" cy="40" rx="8" ry="6" fill="#000" opacity="0.35"/>
<ellipse cx="388" cy="115" rx="8" ry="25" fill="#000" opacity="0.45" transform="rotate(-10 388 115)"/>
<ellipse cx="352" cy="55" rx="6" ry="8" fill="#000" opacity="0.2" transform="rotate(40 352 55)"/>
<ellipse cx="305" cy="75" rx="5" ry="20" fill="#000" opacity="0.25" transform="rotate(35 305 75)"/>
<ellipse cx="318" cy="56" rx="30" ry="9" fill="#fff" opacity="0.55" transform="rotate(-30 318 56)"/>
<ellipse cx="300" cy="100" rx="18" ry="25" fill="#fff" opacity="0.35" transform="rotate(-30 300 100)"/>
<ellipse cx="350" cy="40" rx="24" ry="7" fill="#fff" opacity="0.5" transform="rotate(-30 350 40)"/>
<ellipse cx="420" cy="32" rx="15" ry="6" fill="#fff" opacity="0.3"/>
<ellipse cx="290" cy="130" rx="10" ry="15" fill="#fff" opacity="0.3"/>
</g>
</g></g>
<g transform="rotate(-38 410 100)" filter="url(#drBw)"><g transform="rotate(38 410 100)">
<g filter="url(#ragh)"><polygon points="300,177 296,150 299,138 304,125 308,115 313,102 318,90 330,85 345,82 358,80 370,76 378,66 385,59 400,57 415,55 430,56 445,56 458,58 468,56 478,52 490,45 505,40 520,38 543,36 543,177" fill="#000"/></g>
<g filter="url(#raghd)"><polygon points="440,88 455,66 475,58 500,48 543,44 543,177 450,177 446,140" fill="#000"/></g>
</g></g>
<g transform="rotate(-38 410 100)" filter="url(#drBm)"><g transform="rotate(38 410 100)"><g filter="url(#rag)">
<polygon points="372,92 380,86 398,86 404,95 407,110 411,128 413,147 376,147 373,125 370,105" fill="#cac6c6"/>
<polygon points="342,114 350,111 353,125 350,138 343,137 341,125" fill="#dcd8d8"/>
<polygon points="460,30 478,30 482,44 476,55 462,56 456,45" fill="#dcd8d8"/>
<polygon points="500,55 512,50 530,52 540,58 530,66 510,64" fill="#dcd8d8"/>
<polygon points="445,52 460,55 470,63 455,66 440,60" fill="#dcd8d8"/>
</g></g></g>
<g transform="rotate(-38 410 100)" filter="url(#drBw)"><g transform="rotate(38 410 100)"><g filter="url(#rag)">
<polygon points="400,60 430,58 475,60 475,74 440,75 402,74" fill="#e6e4e4"/>
<ellipse cx="391" cy="74" rx="9" ry="11" fill="#ff442e"/>
<ellipse cx="386" cy="66" rx="6" ry="5" fill="#ff7a32"/>
<ellipse cx="403" cy="80" rx="8" ry="4.5" fill="#ff442e"/>
<ellipse cx="384" cy="84" rx="5" ry="4" fill="#ffb434"/>
<ellipse cx="419" cy="79" rx="5" ry="5" fill="#ff442e"/>
<ellipse cx="430" cy="82" rx="3.5" ry="2.5" fill="#ff442e"/>
<ellipse cx="443" cy="71" rx="4.5" ry="3.5" fill="#ff442e"/>
<ellipse cx="450" cy="66" rx="6" ry="3.5" fill="#ff442e"/>
<ellipse cx="454" cy="84" rx="4" ry="3.5" fill="#ff442e"/>
<ellipse cx="441" cy="85" rx="3" ry="2.5" fill="#ff442e"/>
<ellipse cx="419" cy="64" rx="5" ry="2.5" fill="#ff442e"/>
<ellipse cx="470" cy="68" rx="4" ry="4" fill="#ffb434"/>
<ellipse cx="466" cy="62" rx="5" ry="3" fill="#c6ee48"/>
<ellipse cx="372" cy="63" rx="8" ry="4" fill="#ffb434" transform="rotate(-20 372 63)"/>
<ellipse cx="365" cy="66" rx="5" ry="3" fill="#c6ee48"/>
<ellipse cx="421" cy="80" rx="8" ry="5" fill="#ff442e"/>
<ellipse cx="450" cy="82" rx="8" ry="5" fill="#ff442e"/>
<ellipse cx="446" cy="65" rx="8" ry="5" fill="#ff442e"/>
<ellipse cx="410" cy="58" rx="7" ry="3" fill="#ff442e"/>
<ellipse cx="398" cy="81" rx="8" ry="5" fill="#ff442e"/>
<ellipse cx="388" cy="62" rx="6" ry="4" fill="#ff442e"/>
<ellipse cx="433" cy="60" rx="5" ry="3" fill="#ff7a32"/>
<ellipse cx="462" cy="84" rx="5" ry="4" fill="#ff442e"/>
<ellipse cx="296" cy="131" rx="4" ry="2.5" fill="#48d65a"/>
<ellipse cx="281" cy="138" rx="4" ry="3.5" fill="#48d65a"/>
<ellipse cx="298" cy="142" rx="5" ry="4" fill="#48d65a"/>
<ellipse cx="313" cy="110" rx="3" ry="3" fill="#48d65a"/>
<ellipse cx="303" cy="120" rx="2" ry="2" fill="#86e25a"/>
<ellipse cx="323" cy="101" rx="2.5" ry="2" fill="#ffb434"/>
<ellipse cx="361" cy="167" rx="3.5" ry="3" fill="#c6ee48"/>
<ellipse cx="447" cy="33" rx="9" ry="4" fill="#48d65a"/>
<ellipse cx="442" cy="43" rx="13" ry="3" fill="#48d65a"/>
<ellipse cx="428" cy="53" rx="18" ry="4" fill="#48d65a"/>
<ellipse cx="390" cy="60" rx="20" ry="5" fill="#48d65a"/>
<ellipse cx="498" cy="34" rx="8" ry="4" fill="#86e25a"/>
<ellipse cx="510" cy="37" rx="5" ry="3" fill="#ffb434"/>
<ellipse cx="520" cy="33" rx="6" ry="3" fill="#48d65a"/>
<ellipse cx="485" cy="48" rx="8" ry="6" fill="#48d65a"/>
<ellipse cx="505" cy="46" rx="10" ry="5" fill="#c6ee48" transform="rotate(-20 505 46)"/>
<ellipse cx="475" cy="58" rx="8" ry="5" fill="#48d65a"/>
<ellipse cx="430" cy="54" rx="12" ry="5" fill="#c6ee48"/>
<polyline points="524,50 534,42 543,32" fill="none" stroke="#ff442e" stroke-width="7" stroke-linecap="round" stroke-linejoin="round"/>
<polyline points="515,55 543,45" fill="none" stroke="#ff7a32" stroke-width="4" stroke-linecap="round" stroke-linejoin="round"/>
<ellipse cx="480" cy="48" rx="10" ry="5" fill="#86e25a" transform="rotate(-20 480 48)"/>
<ellipse cx="470" cy="58" rx="10" ry="5" fill="#48d65a"/>
</g></g></g>
<polygon points="478,90 500,86 543,84 543,150 466,150 472,135 468,120 476,105" fill="#000" filter="url(#wnet)" opacity="0.92"/>
<g filter="url(#rag)">
<polyline points="410,94 425,96 440,95 452,93" fill="none" stroke="#eeecec" stroke-width="4.2" stroke-linecap="round" opacity="0.72"/>
<polyline points="412,106 428,107 444,105 455,103" fill="none" stroke="#eeecec" stroke-width="4.2" stroke-linecap="round" opacity="0.72"/>
<polyline points="414,116 430,116 446,114" fill="none" stroke="#eeecec" stroke-width="4.2" stroke-linecap="round" opacity="0.72"/>
<polyline points="416,124 432,124 446,122" fill="none" stroke="#eeecec" stroke-width="4.2" stroke-linecap="round" opacity="0.72"/>
<polyline points="418,135 434,134 448,133" fill="none" stroke="#eeecec" stroke-width="4.2" stroke-linecap="round" opacity="0.72"/>
<polyline points="420,143 440,143" fill="none" stroke="#eeecec" stroke-width="4.2" stroke-linecap="round" opacity="0.72"/>
<ellipse cx="512" cy="120" rx="5" ry="9" fill="#f2f0f0" opacity="0.8"/>
<ellipse cx="522" cy="134" rx="6" ry="8" fill="#f2f0f0" opacity="0.8"/>
<ellipse cx="518" cy="142" rx="4" ry="4" fill="#f2f0f0" opacity="0.8"/>
<ellipse cx="528" cy="118" rx="3" ry="5" fill="#f2f0f0" opacity="0.8"/>
<ellipse cx="487" cy="105" rx="6" ry="4" fill="#f2f0f0" opacity="0.8"/>
<ellipse cx="486" cy="122" rx="5" ry="3" fill="#f2f0f0" opacity="0.8"/>
</g>
<polyline points="412,99 425,101 438,100 452,98 466,97" fill="none" stroke="#1fa046" stroke-width="2.6" stroke-dasharray="0.1 4.5" stroke-linecap="round"/>
<polyline points="413,110 428,111 444,109 456,107" fill="none" stroke="#1fa046" stroke-width="2.6" stroke-dasharray="0.1 4.5" stroke-linecap="round"/>
<polyline points="414,120 430,120 446,118" fill="none" stroke="#1fa046" stroke-width="2.6" stroke-dasharray="0.1 4.5" stroke-linecap="round"/>
<polyline points="416,129 432,128 446,127" fill="none" stroke="#1fa046" stroke-width="2.6" stroke-dasharray="0.1 4.5" stroke-linecap="round"/>
<polyline points="418,139 434,138 448,137" fill="none" stroke="#1fa046" stroke-width="2.6" stroke-dasharray="0.1 4.5" stroke-linecap="round"/>
<polyline points="420,88 440,90 460,91 475,89" fill="none" stroke="#1fa046" stroke-width="2.6" stroke-dasharray="0.1 4.5" stroke-linecap="round"/>
<polyline points="437,117 452,111 468,106 476,98 487,93 498,83 515,82" fill="none" stroke="#e8382a" stroke-width="1.3" stroke-linejoin="round"/>
<polyline points="432,134 439,127 444,121" fill="none" stroke="#e8382a" stroke-width="1.3" stroke-linejoin="round"/>
<polyline points="461,114 468,114" fill="none" stroke="#e8382a" stroke-width="1.3" stroke-linejoin="round"/>
<polyline points="471,110 480,109" fill="none" stroke="#e8382a" stroke-width="1.3" stroke-linejoin="round"/>
<polyline points="423,137 427,137" fill="none" stroke="#e8382a" stroke-width="1.3" stroke-linejoin="round"/>
<polyline points="456,110 466,106 477,92" fill="none" stroke="#e8382a" stroke-width="1.3" stroke-linejoin="round"/>
<polyline points="511,105 528,103" fill="none" stroke="#e8382a" stroke-width="1.3" stroke-linejoin="round"/>
<polyline points="485,95 498,88" fill="none" stroke="#e8382a" stroke-width="1.3" stroke-linejoin="round"/>
<polyline points="418,95 430,92 446,88" fill="none" stroke="#e8382a" stroke-width="1.3" stroke-linejoin="round"/>
<ellipse cx="463" cy="128" rx="2.6" ry="2.3" fill="#f04a30"/>
<ellipse cx="395" cy="148" rx="1.6" ry="1.6" fill="#f04a30"/>
</g>
<polyline points="379,84 392,85.5 402,86 412,85.5 422,84 431,82" fill="none" stroke="#fff" stroke-width="1.6"/>
<polyline points="392,77 385,80 379,84" fill="none" stroke="#fff" stroke-width="1.3"/>
<polyline points="402,70 412,69.5 422,70 430,71" fill="none" stroke="#fff" stroke-width="1.1" opacity="0.9"/>
<polyline points="424,59 430,65 437,71" fill="none" stroke="#fff" stroke-width="1.2" opacity="0.85"/>
<polyline points="373.6,99 381,91 387,84 392,78" fill="none" stroke="#f0d030" stroke-width="1.5" stroke-dasharray="2 2"/>
<polyline points="402,71.5 410,74.5 420,73.5 440,74 460,74.5 476,75" fill="none" stroke="#f0d030" stroke-width="1.5" stroke-dasharray="2 2.5"/>
<polyline points="417,80 425,82 433,82" fill="none" stroke="#1c9a40" stroke-width="2.2" stroke-dasharray="0.1 3.5" stroke-linecap="round"/>
<polyline points="449,77 460,78 475,79" fill="none" stroke="#1c9a40" stroke-width="2.2" stroke-dasharray="0.1 3.5" stroke-linecap="round"/>
<circle cx="398" cy="71.8" r="4.2" fill="#fff" stroke="#222" stroke-width="0.8"/>
<path d="M402.7 99L413.6 85.5" stroke="#000" stroke-width="0.8"/>
<text x="390" y="102.7" font-size="8.9" textLength="9.4" lengthAdjust="spacingAndGlyphs" font-weight="bold" stroke="#fff" stroke-width="1.6" paint-order="stroke" stroke-linejoin="round">S1</text>
<text x="332" y="79" font-size="7.5" font-weight="bold" textLength="57" lengthAdjust="spacingAndGlyphs" stroke="#fff" stroke-width="1.2" stroke-opacity="0.6" paint-order="stroke" stroke-linejoin="round">Cima del Simano</text>
<rect x="277.8" y="146.2" width="26.1" height="31" fill="#fff"/>
<polygon points="298.9,156.1 279.1,162.9 289.5,164.2 289,173.7" fill="url(#ag2)" stroke="#1a1a1a" stroke-width="1.1"/>
<linearGradient id="ag2" x1="0" y1="0" x2="0" y2="1"><stop offset="0" stop-color="#e8d8d2"/><stop offset="0.5" stop-color="#fff"/></linearGradient>
<path d="M309 170.3H362" stroke="#fff" stroke-width="1.3"/>
<text x="321" y="168" font-size="8.6" font-weight="bold" fill="#fff">300 m</text>
<rect x="372.6" y="149" width="169.9" height="27.3" fill="#fff"/>
<rect x="376.80" y="158.6" width="10.50" height="8.6" fill="#ee3324"/>
<rect x="387.00" y="158.6" width="10.50" height="8.6" fill="#f04e28"/>
<rect x="397.20" y="158.6" width="10.50" height="8.6" fill="#f26a2a"/>
<rect x="407.40" y="158.6" width="10.50" height="8.6" fill="#f7952e"/>
<rect x="417.60" y="158.6" width="10.50" height="8.6" fill="#d6d532"/>
<rect x="427.80" y="158.6" width="10.50" height="8.6" fill="#a9cf3f"/>
<rect x="438.00" y="158.6" width="10.50" height="8.6" fill="#7cc242"/>
<rect x="448.20" y="158.6" width="10.50" height="8.6" fill="#4db848"/>
<rect x="458.40" y="158.6" width="10.50" height="8.6" fill="#2fb34a"/>
<rect x="468.60" y="158.6" width="10.50" height="8.6" fill="#1fae4b"/>
<rect x="478.80" y="158.6" width="10.50" height="8.6" fill="#14ad6a"/>
<rect x="489.00" y="158.6" width="10.50" height="8.6" fill="#10ae96"/>
<rect x="499.20" y="158.6" width="10.50" height="8.6" fill="#12b0c5"/>
<rect x="509.40" y="158.6" width="10.50" height="8.6" fill="#2a9fd8"/>
<rect x="519.60" y="158.6" width="10.50" height="8.6" fill="#4f74b8"/>
<rect x="529.80" y="158.6" width="10.50" height="8.6" fill="#4c4a9a"/>
<text x="380" y="157.8" font-size="7.4" fill="#222" textLength="126" lengthAdjust="spacingAndGlyphs">Sentinel-1 Speed displacement [mm/y]</text>
<text x="383.2" y="175" font-size="7.2" fill="#222" text-anchor="middle">−10</text>
<text x="420.0" y="175" font-size="7.2" fill="#222" text-anchor="middle">−5</text>
<text x="463.3" y="175" font-size="7.2" fill="#222" text-anchor="middle">0</text>
<text x="498.0" y="175" font-size="7.2" fill="#222" text-anchor="middle">5</text>
<text x="536.0" y="175" font-size="7.2" fill="#222" text-anchor="middle">10</text>
<path d="M53.5 305.4L187.5 277.9M53.5 284.4L187.5 256.9M53.5 263.2L187.5 235.8M53.5 242.2L187.5 214.7M53.5 221.1L187.5 193.6M106.7 305.1L106.7 193.3M156.8 294.8L156.8 183.0M187.5 277.9L259.5 330.6M187.5 256.9L259.5 309.5M187.5 235.8L259.5 288.4M187.5 214.7L259.5 267.2M187.5 193.6L259.5 246.2M198.2 296.3L198.2 184.5M209.9 304.9L209.9 193.0M221.6 313.4L221.6 201.6M233.3 322.0L233.3 210.1M245.0 330.5L245.0 218.7M256.7 339.1L256.7 227.2M56.6 315.4L128.6 368.0M106.7 305.1L178.7 357.7M156.8 294.8L228.8 347.4M64.2 323.8L198.2 296.3M75.9 332.4L209.9 304.9M87.6 340.9L221.6 313.4M99.3 349.5L233.3 322.0M111.0 358.0L245.0 330.5M122.7 366.6L256.7 339.1" stroke="#dcdcdc" stroke-width="0.6" fill="none"/>
<path d="M53.5 204.2L53.5 316.0M53.5 316.0L125.5 368.6L259.5 341.1" stroke="#3a3a3a" stroke-width="0.8" fill="none"/>
<path d="M53.5 305.4l2.5 -0.5M53.5 284.4l2.5 -0.5M53.5 263.2l2.5 -0.5M53.5 242.2l2.5 -0.5M53.5 221.1l2.5 -0.5M64.2 323.8l2.6 -0.55M75.9 332.4l2.6 -0.55M87.6 340.9l2.6 -0.55M99.3 349.5l2.6 -0.55M111.0 358.0l2.6 -0.55M122.7 366.6l2.6 -0.55M128.6 368.0l-2 -1.5M178.7 357.7l-2 -1.5M228.8 347.4l-2 -1.5" stroke="#3a3a3a" stroke-width="0.7" fill="none"/>
<g filter="url(#ragc)"><g clip-path="url(#cc)"><g transform="rotate(26 150 280)" filter="url(#cl)"><g transform="rotate(-26 150 280)"><rect x="40" y="185" width="235" height="190" fill="url(#gc)"/></g></g>
<polygon points="150,207 160,199 176,199 180,204 176,222 172,240 160,244 152,232" fill="url(#slab)" opacity="0.5" filter="url(#bl05)"/>
<path d="M180 204L176 222L172 240" stroke="#d89020" stroke-width="1.2" fill="none" opacity="0.7" filter="url(#bl05)"/>
<ellipse cx="157" cy="205" rx="4" ry="3" fill="#fff8d0" opacity="0.7" filter="url(#bl1)"/>
</g></g>
<text x="48" y="224.6" font-size="9.5" fill="#262626" text-anchor="end">2400</text>
<text x="48" y="246.0" font-size="9.5" fill="#262626" text-anchor="end">2200</text>
<text x="48" y="267.1" font-size="9.5" fill="#262626" text-anchor="end">2000</text>
<text x="48" y="288.3" font-size="9.5" fill="#262626" text-anchor="end">1800</text>
<text x="48" y="309.0" font-size="9.5" fill="#262626" text-anchor="end">1600</text>
<text x="31.7" y="336.9" font-size="9.5" fill="#262626">1.476</text>
<text x="43.7" y="345.3" font-size="9.5" fill="#262626">1.474</text>
<text x="55.8" y="354.3" font-size="9.5" fill="#262626">1.472</text>
<text x="72.4" y="362.4" font-size="9.5" fill="#262626">1.47</text>
<text x="79.0" y="370.9" font-size="9.5" fill="#262626">1.468</text>
<text x="90.5" y="380.0" font-size="9.5" fill="#262626">1.466</text>
<text x="134.5" y="385.4" font-size="9.5" fill="#262626">7.17</text>
<text x="185.0" y="372.4" font-size="9.5" fill="#262626">7.175</text>
<text x="235.8" y="360.7" font-size="9.5" fill="#262626">7.18</text>
<text x="7.6" y="360.7" font-size="10.5" fill="#262626">&#215;10<tspan font-size="6.5" dy="-5.2">5</tspan></text>
<text x="26.5" y="386" font-size="10.7" fill="#262626">Northing</text>
<text x="203" y="390.5" font-size="10.7" fill="#262626">Easting</text>
<text transform="translate(19 279) rotate(-90)" font-size="10.7" fill="#262626">Altitude</text>
<text x="12" y="195.6" font-size="10" font-weight="bold">c)</text>
<text x="109" y="212.4" font-size="8.9" font-weight="bold" textLength="9.2" lengthAdjust="spacingAndGlyphs">S1</text>
<path d="M120 212L154 216" stroke="#000" stroke-width="0.9"/>
<path d="M327.4 198V372M350.5 198V372M373.7 198V372M396.8 198V372M419.9 198V372M443.0 198V372M466.1 198V372M489.3 198V372M512.4 198V372M535.5 198V372M304.3 365.1H542.5M304.3 342.0H542.5M304.3 318.9H542.5M304.3 295.8H542.5M304.3 272.7H542.5M304.3 249.5H542.5M304.3 226.4H542.5M304.3 203.3H542.5" stroke="#dcd0cc" stroke-width="0.6" fill="none"/>
<path d="M304.3 198V372.2H542.5" stroke="#404040" stroke-width="0.9" fill="none"/>
<path d="M304.3 372.2v-2M327.4 372.2v-2M350.5 372.2v-2M373.7 372.2v-2M396.8 372.2v-2M419.9 372.2v-2M443.0 372.2v-2M466.1 372.2v-2M489.3 372.2v-2M512.4 372.2v-2M535.5 372.2v-2M304.3 365.1h2M304.3 342.0h2M304.3 318.9h2M304.3 295.8h2M304.3 272.7h2M304.3 249.5h2M304.3 226.4h2M304.3 203.3h2" stroke="#404040" stroke-width="0.7" fill="none"/>
<text x="301.3" y="367.6" font-size="7" fill="#303030" text-anchor="end">1900</text>
<text x="301.3" y="344.5" font-size="7" fill="#303030" text-anchor="end">2000</text>
<text x="301.3" y="321.4" font-size="7" fill="#303030" text-anchor="end">2100</text>
<text x="301.3" y="298.3" font-size="7" fill="#303030" text-anchor="end">2200</text>
<text x="301.3" y="275.2" font-size="7" fill="#303030" text-anchor="end">2300</text>
<text x="301.3" y="252.0" font-size="7" fill="#303030" text-anchor="end">2400</text>
<text x="301.3" y="228.9" font-size="7" fill="#303030" text-anchor="end">2500</text>
<text x="301.3" y="205.8" font-size="7" fill="#303030" text-anchor="end">2600</text>
<text x="304.3" y="383.6" font-size="7" fill="#303030" text-anchor="middle">0</text>
<text x="327.4" y="383.6" font-size="7" fill="#303030" text-anchor="middle">100</text>
<text x="350.5" y="383.6" font-size="7" fill="#303030" text-anchor="middle">200</text>
<text x="373.7" y="383.6" font-size="7" fill="#303030" text-anchor="middle">300</text>
<text x="396.8" y="383.6" font-size="7" fill="#303030" text-anchor="middle">400</text>
<text x="419.9" y="383.6" font-size="7" fill="#303030" text-anchor="middle">500</text>
<text x="443.0" y="383.6" font-size="7" fill="#303030" text-anchor="middle">600</text>
<text x="466.1" y="383.6" font-size="7" fill="#303030" text-anchor="middle">700</text>
<text x="489.3" y="383.6" font-size="7" fill="#303030" text-anchor="middle">800</text>
<text x="512.4" y="383.6" font-size="7" fill="#303030" text-anchor="middle">900</text>
<text x="535.5" y="383.6" font-size="7" fill="#303030" text-anchor="middle">1000</text>
<text transform="translate(280.7 292) rotate(-90)" font-size="7.6" fill="#303030" text-anchor="middle">Elevation (m)</text>
<polyline points="325.1,215.3 330.5,220.1 340.4,227.7 354.5,236.5 369.8,244.1 387.3,252.8 402.5,261.5 409.1,265.9" fill="none" stroke="#f03020" stroke-width="1.35" stroke-linejoin="round"/>
<polyline points="304.4,220.5 315,217.9 325.1,215.3 342.5,209.8 345.8,209.4 348,211.4 353.5,214.6 363.3,217.5 372,222.3 380.7,227.7 386.2,233.2 389.5,235.4 392.7,235 396,237.5 397.1,241.9 398.2,246.3 401.5,249.5 404.7,255 408,260.5 409.1,264.8 411.3,266.6 420,270.3 429,273.3 433.4,275 441,275.7 446.9,278.7 449.8,283 452.5,288.5 455,292.5 459,293.5 464,296 468.6,302 475.6,308 478.3,306.6 485.2,305.8 489.4,306.6 493.5,310 499,312.7 504.6,317.7 510,323.8 515.7,327.4 521.2,331.5 525.4,334.3 526.7,338.4 530,344.5 535,345.3 542,347.3" fill="none" stroke="#000" stroke-width="1.5" stroke-linejoin="round"/>
<rect x="426" y="190.5" width="120" height="23" fill="#fff" stroke="#303030" stroke-width="0.7"/>
<path d="M428.3 198.5H449.2" stroke="#000" stroke-width="1.5"/><path d="M428.3 207H449.2" stroke="#f03a24" stroke-width="1.2"/>
<text x="451.3" y="200.8" font-size="6.7" fill="#202020">Actual topography</text>
<text x="451.3" y="209.3" font-size="6.7" fill="#202020">Topography after SLBL applied</text>
<text x="346" y="206.3" font-size="7.5" font-weight="bold" textLength="57" lengthAdjust="spacingAndGlyphs">Cima del Simano</text>
<text x="278.5" y="196" font-size="10" font-weight="bold">d)</text>
<text x="292.8" y="396" font-size="11.5" font-weight="bold">A</text>
<text x="534.5" y="396" font-size="11.5" font-weight="bold">B</text>
<path d="M544.2 2V178" stroke="#c4c4c4" stroke-width="0.8"/>
<path d="M4.6 6.5V46" stroke="#ececec" stroke-width="0.8"/>
<text x="10.2" y="15.4" font-size="10" font-weight="bold">a)</text>
<text x="286" y="16.3" font-size="10" font-weight="bold">b)</text>
</svg></body></html>
